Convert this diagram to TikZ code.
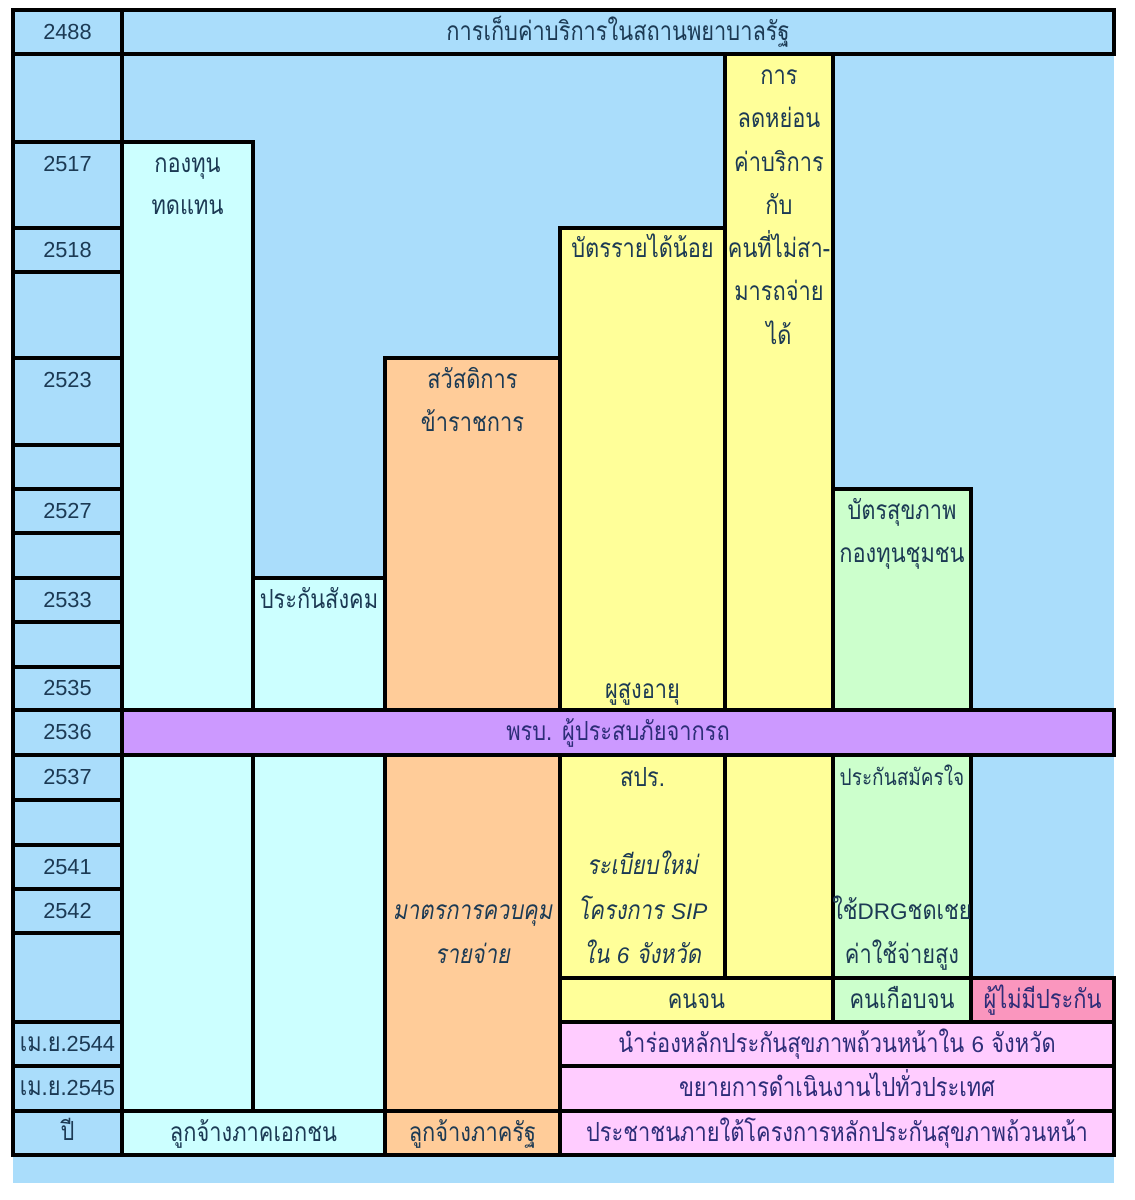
\documentclass[tikz,border=0pt]{standalone}
\usepackage{fontspec}
\setmainfont{Liberation Sans}
\newfontfamily\thaifont[Script=Thai, FakeStretch=0.83, ItalicFont={Loma Oblique}]{Loma}
\newcommand\lat[1]{{\rmfamily\fontsize{16}{19}\selectfont #1}}

\definecolor{sky}{RGB}{170,221,251}
\definecolor{aqua}{RGB}{204,255,255}
\definecolor{peach}{RGB}{255,204,153}
\definecolor{lemon}{RGB}{255,255,153}
\definecolor{mint}{RGB}{204,255,204}
\definecolor{lilac}{RGB}{204,153,255}
\definecolor{blush}{RGB}{255,204,255}
\definecolor{rose}{RGB}{250,150,190}
\definecolor{ink}{RGB}{28,58,84}
\definecolor{navy}{RGB}{45,45,120}

\tikzset{
  cell/.style={draw=black, line width=2.6pt},
  yr/.style={font=\fontsize{15.5}{18}\selectfont, text=ink,
             text height=13.5pt, text depth=2.5pt, inner sep=0pt},
  th/.style={font=\thaifont\fontsize{18.7}{22}\selectfont, text=ink,
             text height=15.4pt, text depth=3.6pt, inner sep=0pt},
  thi/.style={th, font=\thaifont\itshape\fontsize{18.7}{22}\selectfont},
}

\begin{document}
\begin{tikzpicture}[x=0.025cm, y=-0.025cm]
  \useasboundingbox (0,0) rectangle (1134,1200);
  \fill[sky] (13,10) rectangle (1114,1183);

  % year column
  \foreach \a/\b in {10/54, 54/142, 142/228, 228/272, 272/358, 358/445,
                     445/489, 489/533, 533/578, 578/622, 622/667, 667/710,
                     710/755, 755/800, 800/845, 845/889, 889/933, 933/1022,
                     1022/1066, 1066/1111, 1111/1155}
    \draw[cell, fill=sky] (13,\a) rectangle (122,\b);
  \draw[cell, fill=sky] (122,10) rectangle (1114,54);

  % upper blocks
  \draw[cell, fill=aqua] (122,142) rectangle (253,710);
  \draw[cell, fill=aqua] (253,578) rectangle (385,710);
  \draw[cell, fill=peach] (385,358) rectangle (560,710);
  \draw[cell, fill=lemon] (560,228) rectangle (725,710);
  \draw[cell, fill=lemon] (725,54) rectangle (833,710);
  \draw[cell, fill=mint] (833,489) rectangle (971,710);
  \draw[cell, fill=lilac] (122,710) rectangle (1114,755);

  % lower blocks
  \draw[cell, fill=aqua] (122,755) rectangle (253,1111);
  \draw[cell, fill=aqua] (253,755) rectangle (385,1111);
  \draw[cell, fill=peach] (385,755) rectangle (560,1111);
  \draw[cell, fill=lemon] (560,755) rectangle (725,978);
  \draw[cell, fill=lemon] (725,755) rectangle (833,978);
  \draw[cell, fill=mint] (833,755) rectangle (971,978);
  \draw[cell, fill=lemon] (560,978) rectangle (833,1022);
  \draw[cell, fill=mint] (833,978) rectangle (971,1022);
  \draw[cell, fill=rose] (971,978) rectangle (1114,1022);
  \draw[cell, fill=blush] (560,1022) rectangle (1114,1066);
  \draw[cell, fill=blush] (560,1066) rectangle (1114,1111);
  \draw[cell, fill=aqua] (122,1111) rectangle (385,1155);
  \draw[cell, fill=peach] (385,1111) rectangle (560,1155);
  \draw[cell, fill=blush] (560,1111) rectangle (1114,1155);

  % years
  \node[yr] (y2488) at (67.5,32) {2488};
  \node[yr] (y2517) at (67.5,164) {2517};
  \node[yr] (y2518) at (67.5,250) {2518};
  \node[yr] (y2523) at (67.5,380) {2523};
  \node[yr] (y2527) at (67.5,511) {2527};
  \node[yr] (y2533) at (67.5,600) {2533};
  \node[yr] (y2535) at (67.5,688) {2535};
  \node[yr] (y2536) at (67.5,732) {2536};
  \node[yr] (y2537) at (67.5,777) {2537};
  \node[yr] (y2541) at (67.5,867) {2541};
  \node[yr] (y2542) at (67.5,911) {2542};
  \node[yr] (y2544) at (67.5,1044) {{\thaifont\fontsize{18.7}{22}\selectfont เม.ย.}2544};
  \node[yr] (y2545) at (67.5,1088) {{\thaifont\fontsize{18.7}{22}\selectfont เม.ย.}2545};
  \node[yr, font=\thaifont\fontsize{18.7}{22}\selectfont] (ypi) at (67.5,1133) {ปี};

  % texts
  \node[th] (fee) at (618,32) {การเก็บค่าบริการในสถานพยาบาลรัฐ};
  \node[th] (comp1) at (187.5,164) {กองทุน};
  \node[th] (comp2) at (187.5,206) {ทดแทน};
  \node[th] (social) at (319,600) {ประกันสังคม};
  \node[th] (civil1) at (472.5,380) {สวัสดิการ};
  \node[th] (civil2) at (472.5,423) {ข้าราชการ};
  \node[th] (lowinc) at (642.5,249) {บัตรรายได้น้อย};
  \node[th] (elder) at (642.5,690) {ผูสูงอายุ};
  \node[th] (disc1) at (779,76) {การ};
  \node[th] (disc2) at (779,119) {ลดหย่อน};
  \node[th] (disc3) at (779,163) {ค่าบริการ};
  \node[th] (disc4) at (779,206) {กับ};
  \node[th] (disc5) at (779,249) {คนที่ไม่สา-};
  \node[th] (disc6) at (779,292) {มารถจ่าย};
  \node[th] (disc7) at (779,336) {ได้};
  \node[th] (card1) at (902,511) {บัตรสุขภาพ};
  \node[th] (card2) at (902,554) {กองทุนชุมชน};
  \node[th, text=navy] (traffic) at (618,732) {พรบ. ผู้ประสบภัยจากรถ};
  \node[thi] (ctrl1) at (472.5,911) {มาตรการควบคุม};
  \node[thi] (ctrl2) at (472.5,955) {รายจ่าย};
  \node[th] (spr) at (642.5,778) {สปร.};
  \node[thi] (sip1) at (642.5,866) {ระเบียบใหม่};
  \node[thi] (sip2) at (642.5,911) {โครงการ \lat{SIP}};
  \node[thi] (sip3) at (642.5,955) {ใน \lat{6} จังหวัด};
  \node[th, font=\thaifont\fontsize{16.3}{19}\selectfont] (vol) at (902,777) {ประกันสมัครใจ};
  \node[th] (drg1) at (902,911) {ใช้\lat{DRG}ชดเชย};
  \node[th] (drg2) at (902,955) {ค่าใช้จ่ายสูง};
  \node[th] (poor) at (696.5,1000) {คนจน};
  \node[th] (nearpoor) at (902,1000) {คนเกือบจน};
  \node[th, text=navy] (uninsured) at (1042.5,1000) {ผู้ไม่มีประกัน};
  \node[th, text=navy] (pilot) at (837,1044) {นำร่องหลักประกันสุขภาพถ้วนหน้าใน \lat{6} จังหวัด};
  \node[th, text=navy] (expand) at (837,1088) {ขยายการดำเนินงานไปทั่วประเทศ};
  \node[th] (private) at (253.5,1133) {ลูกจ้างภาคเอกชน};
  \node[th] (public) at (472.5,1133) {ลูกจ้างภาครัฐ};
  \node[th, text=navy] (people) at (837,1133) {ประชาชนภายใต้โครงการหลักประกันสุขภาพถ้วนหน้า};
\end{tikzpicture}
\end{document}
